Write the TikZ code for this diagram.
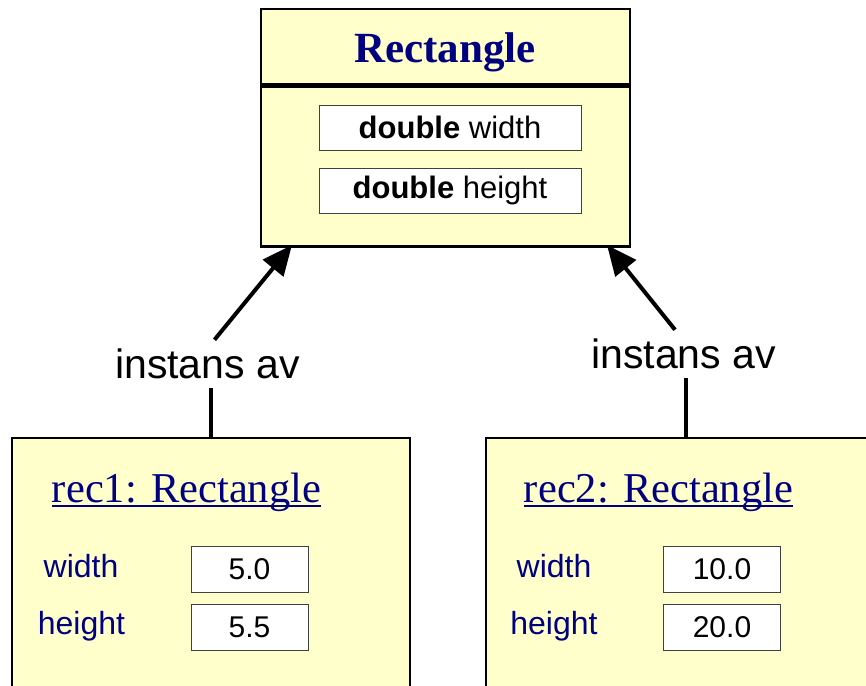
\documentclass[tikz,border=0pt]{standalone}
\usepackage{fontspec}
\setmainfont{Liberation Sans}
\newfontfamily\serifbox{Liberation Serif}
\usetikzlibrary{arrows.meta,positioning}
\definecolor{classfill}{HTML}{FFFFCC}
\definecolor{classtext}{HTML}{000080}

\begin{document}
\begin{tikzpicture}[x=1pt, y=-1pt,
    classbox/.style={draw, line width=2.5pt, fill=classfill, minimum width=369pt, inner sep=0pt},
    attrbox/.style={draw=black!75, line width=1pt, fill=white, minimum width=262pt, minimum height=45pt, font=\fontsize{31}{36}\selectfont},
    valbox/.style={draw=black!75, line width=1pt, fill=white, minimum width=117pt, minimum height=46pt, font=\fontsize{30}{34}\selectfont},
    fieldlbl/.style={text=classtext, anchor=base, font=\fontsize{32}{36}\selectfont},
    objtitle/.style={text=classtext, anchor=base, inner sep=0pt, font=\serifbox\fontsize{42.5}{48}\selectfont},
    underbar/.style={draw=classtext, line width=2pt},
    relation/.style={font=\fontsize{41}{48}\selectfont, inner sep=9pt},
    arrow/.style={-{Triangle[length=30pt,width=26pt]}, line width=4pt},
    link/.style={line width=4pt}
]
    \clip (0,0) rectangle (866,685);

    % class Rectangle
    \node [classbox, minimum height=75pt] (classhead) at (445.5,46.5) {};
    \node [classbox, minimum height=160pt, below=0pt of classhead] (classbody) {};
    \node [text=classtext, font=\serifbox\bfseries\fontsize{43}{48}\selectfont] (classname) at (445,52) {Rectangle};
    \node [attrbox] (attrwidth) at (450,127.5) {\textbf{double} width};
    \node [attrbox] (attrheight) at (450,190.5) {\textbf{double} height};

    % objects
    \node [classbox, minimum width=398pt, minimum height=282pt] (rec1) at (211,579) {};
    \node [classbox, minimum width=400pt, minimum height=282pt] (rec2) at (686,579) {};

    \node [objtitle] (rec1name) at (186.5,502) {rec1: Rectangle};
    \draw [underbar] ([yshift=-4pt]rec1name.base west) -- ([yshift=-4pt]rec1name.base east);
    \node [fieldlbl] (rec1w) at (81,577) {width};
    \node [fieldlbl] (rec1h) at (81.5,634) {height};
    \node [valbox] (rec1wval) at (249.5,569) {5.0};
    \node [valbox] (rec1hval) at (249.5,627.5) {5.5};

    \node [objtitle] (rec2name) at (658.5,502) {rec2: Rectangle};
    \draw [underbar] ([yshift=-4pt]rec2name.base west) -- ([yshift=-4pt]rec2name.base east);
    \node [fieldlbl] (rec2w) at (554,577) {width};
    \node [fieldlbl] (rec2h) at (554,634) {height};
    \node [valbox] (rec2wval) at (722,569) {10.0};
    \node [valbox] (rec2hval) at (722,627.5) {20.0};

    % instance relations
    \node [relation] (rel1) at (207.5,364) {instans av};
    \node [relation] (rel2) at (683.5,354) {instans av};
    \coordinate (tip1) at (292,245);
    \coordinate (tip2) at (607,245);

    \draw [link] (rec1.north) -- (rec1.north |- rel1.south);
    \draw [link] (rec2.north) -- (rec2.north |- rel2.south);
    \draw [arrow] ([xshift=7pt]rel1.north) -- (tip1);
    \draw [arrow] (rel2.north -| 675,0) -- (tip2);

\end{tikzpicture}
\end{document}
